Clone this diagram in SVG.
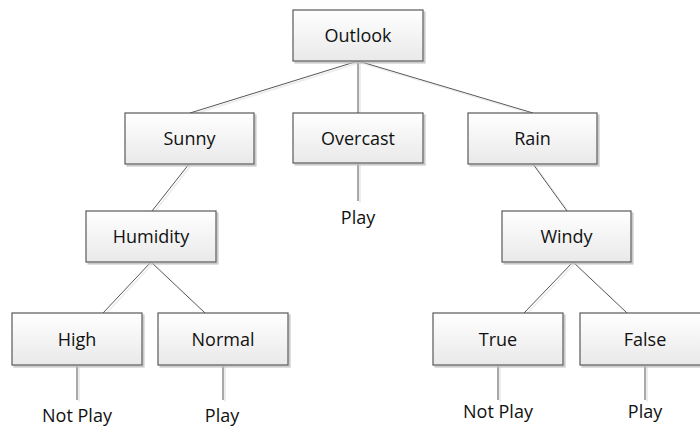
<svg xmlns="http://www.w3.org/2000/svg" width="700" height="429" viewBox="0 0 700 429">
<defs>
<linearGradient id="g" x1="0" y1="0" x2="0" y2="1">
<stop offset="0" stop-color="#ffffff"/>
<stop offset="1" stop-color="#e9e9e9"/>
</linearGradient>
<filter id="sh" x="-10%" y="-10%" width="130%" height="140%">
<feDropShadow dx="2" dy="2" stdDeviation="0.6" flood-color="#bdbdbd" flood-opacity="0.8"/>
</filter>
<filter id="lsh" x="-20%" y="-20%" width="140%" height="140%">
<feDropShadow dx="2" dy="1.5" stdDeviation="0.4" flood-color="#d0d0d0" flood-opacity="0.8"/>
</filter>
</defs>
<style>
.box{fill:url(#g);stroke:#595959;stroke-width:1.2;filter:url(#sh)}
.lbl{font-family:"Open Sans","Liberation Sans",sans-serif;font-size:18px;fill:#111;text-anchor:middle}
.conn line{stroke:#555;stroke-width:1}
</style>
<rect width="700" height="429" fill="#ffffff"/>
<g id="connectors" class="conn" filter="url(#lsh)">
<line x1="358" y1="61" x2="190" y2="113"/>
<line x1="358" y1="61" x2="358" y2="113"/>
<line x1="358" y1="61" x2="533" y2="113"/>
<line x1="189" y1="164" x2="152" y2="211"/>
<line x1="151" y1="262" x2="103" y2="313"/>
<line x1="151" y1="262" x2="205" y2="313"/>
<line x1="533" y1="164" x2="567" y2="211"/>
<line x1="573" y1="262" x2="524" y2="313"/>
<line x1="573" y1="262" x2="627" y2="313"/>
<line x1="358" y1="163" x2="358" y2="201"/>
<line x1="77" y1="365" x2="77" y2="400"/>
<line x1="223" y1="365" x2="223" y2="400"/>
<line x1="498" y1="365" x2="498" y2="400"/>
<line x1="645" y1="365" x2="645" y2="400"/>
</g>
<g id="outlook"><rect class="box" x="293" y="10" width="130" height="51"/><text class="lbl" x="358" y="42">Outlook</text></g>
<g id="sunny"><rect class="box" x="125" y="113" width="129" height="51"/><text class="lbl" x="189.5" y="145">Sunny</text></g>
<g id="overcast"><rect class="box" x="293" y="113" width="130" height="50"/><text class="lbl" x="358" y="144.5">Overcast</text></g>
<g id="rain"><rect class="box" x="468" y="113" width="129" height="51"/><text class="lbl" x="532.5" y="145">Rain</text></g>
<g id="humidity"><rect class="box" x="86" y="211" width="130" height="51"/><text class="lbl" x="151" y="243">Humidity</text></g>
<g id="windy"><rect class="box" x="502" y="211" width="129" height="51"/><text class="lbl" x="566.5" y="243">Windy</text></g>
<g id="high"><rect class="box" x="12" y="313" width="130" height="52"/><text class="lbl" x="77" y="345.5">High</text></g>
<g id="normal"><rect class="box" x="158" y="313" width="130" height="52"/><text class="lbl" x="223" y="345.5">Normal</text></g>
<g id="true"><rect class="box" x="433" y="313" width="130" height="52"/><text class="lbl" x="498" y="345.5">True</text></g>
<g id="false"><rect class="box" x="580" y="313" width="130" height="52"/><text class="lbl" x="645" y="345.5">False</text></g>
<g id="leaf-overcast"><text class="lbl" x="358" y="224">Play</text></g>
<g id="leaf-high"><text class="lbl" x="77" y="422">Not Play</text></g>
<g id="leaf-normal"><text class="lbl" x="222" y="422">Play</text></g>
<g id="leaf-true"><text class="lbl" x="498" y="418">Not Play</text></g>
<g id="leaf-false"><text class="lbl" x="645" y="418">Play</text></g>
</svg>
